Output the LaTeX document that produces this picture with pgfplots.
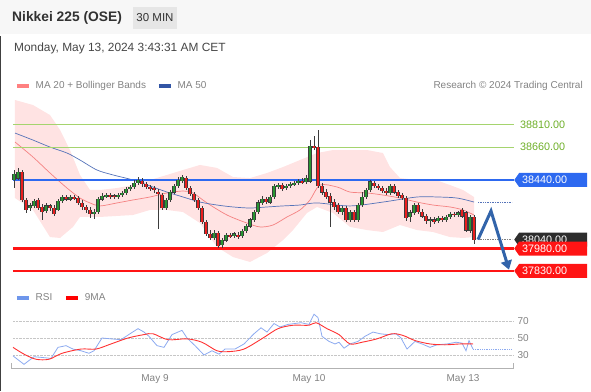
\documentclass[border=0pt]{standalone}
\usepackage{fontspec}
\setmainfont{Liberation Sans}
\usepackage{pgfplots}
\pgfplotsset{compat=1.18}
\usepackage{pgfplotstable}
\usetikzlibrary{shapes.symbols,arrows.meta}

\definecolor{candlegreen}{RGB}{40,150,50}
\definecolor{candlered}{RGB}{235,30,30}
\definecolor{wick}{RGB}{60,60,60}
\definecolor{band}{RGB}{255,227,227}
\definecolor{maA}{RGB}{245,130,130}
\definecolor{maB}{RGB}{85,115,185}
\definecolor{lvlgreen}{RGB}{165,212,110}
\definecolor{lvlgreentext}{RGB}{110,175,40}
\definecolor{lvlblue}{RGB}{45,105,240}
\definecolor{lvlred}{RGB}{255,20,20}
\definecolor{tagdark}{RGB}{45,45,45}
\definecolor{arrowblue}{RGB}{50,100,170}
\definecolor{textgray}{RGB}{130,130,130}
\definecolor{titlegray}{RGB}{50,50,50}
\definecolor{dategray}{RGB}{70,70,70}
\definecolor{boxgray}{RGB}{230,230,230}
\definecolor{headbg}{RGB}{247,247,247}
\definecolor{rsiblue}{RGB}{140,170,240}
\definecolor{rsired}{RGB}{255,50,50}
\definecolor{legpink}{RGB}{255,128,128}
\definecolor{legblue}{RGB}{50,85,165}
\definecolor{legrsi}{RGB}{110,150,235}

\pgfplotsset{
  legend image code/.code={\draw[#1, line width=3.5pt] (0pt,0pt) -- (12pt,0pt);},
  nomarks/.style={only marks, mark=*, mark size=0pt, mark options={draw=none, fill=none}},
}
\tikzset{
  tagbox/.style={signal, signal to=west, signal pointer angle=110, anchor=west,
    inner xsep=3pt, inner ysep=1.5pt, minimum height=14pt, text=white,
    font=\fontsize{10.8}{12}\selectfont, text width=62pt, align=left},
}

% all candles: x open high low close
\pgfplotstableread{
x o h l c
14 38440 38507 38386 38480
18 38453 38521 38440 38494
22 38494 38507 38292 38306
26 38306 38319 38219 38239
30 38252 38286 38232 38266
34 38266 38312 38252 38299
38 38306 38319 38239 38252
42 38259 38279 38172 38225
46 38232 38286 38219 38266
50 38266 38279 38232 38252
54 38252 38272 38198 38212
58 38239 38312 38232 38299
62 38299 38339 38286 38326
66 38326 38339 38299 38312
70 38312 38339 38299 38326
74 38326 38339 38306 38319
78 38319 38333 38272 38286
82 38286 38306 38239 38259
86 38259 38272 38219 38239
90 38239 38259 38185 38212
94 38212 38245 38178 38225
98 38225 38326 38212 38312
102 38312 38353 38299 38333
106 38333 38353 38319 38339
110 38339 38353 38312 38333
114 38333 38346 38312 38326
118 38326 38353 38312 38339
122 38339 38366 38326 38353
126 38353 38393 38339 38380
130 38380 38406 38366 38393
134 38393 38440 38380 38420
138 38420 38460 38406 38440
142 38433 38453 38393 38413
146 38413 38427 38380 38393
150 38393 38406 38366 38386
154 38386 38400 38353 38373
158 38359 38380 38111 38353
162 38339 38353 38239 38252
166 38252 38319 38239 38306
170 38306 38373 38292 38359
174 38359 38413 38346 38400
178 38400 38460 38386 38440
182 38433 38474 38420 38460
186 38453 38467 38373 38386
190 38386 38400 38333 38346
194 38346 38359 38292 38306
198 38306 38319 38239 38252
202 38252 38266 38145 38158
206 38158 38172 38064 38078
210 38078 38104 38037 38051
214 38051 38104 38037 38084
218 38084 38098 37984 37997
222 38004 38051 37984 38037
226 38037 38084 38024 38071
230 38071 38084 38051 38064
234 38064 38091 38051 38078
238 38071 38091 38044 38064
242 38064 38111 38051 38098
246 38098 38145 38084 38131
250 38131 38185 38118 38172
254 38172 38239 38158 38225
258 38225 38306 38212 38286
262 38286 38333 38272 38312
266 38312 38326 38279 38292
270 38292 38339 38279 38326
274 38326 38413 38312 38400
278 38400 38420 38380 38406
282 38406 38420 38366 38380
286 38386 38413 38373 38400
290 38400 38427 38386 38413
294 38413 38433 38400 38420
298 38420 38447 38406 38433
302 38433 38453 38413 38427
306 38427 38474 38413 38453
310 38433 38708 38420 38668
314 38668 38735 38641 38655
318 38661 38776 38386 38400
322 38400 38420 38339 38359
326 38359 38380 38312 38326
330 38333 38353 38125 38292
334 38292 38312 38239 38259
338 38272 38286 38212 38225
342 38225 38266 38205 38252
346 38252 38266 38158 38172
350 38172 38239 38158 38225
354 38225 38239 38158 38172
358 38172 38286 38158 38272
362 38272 38359 38259 38326
366 38326 38386 38312 38373
370 38373 38440 38359 38427
374 38420 38433 38386 38400
378 38400 38413 38373 38386
382 38386 38400 38353 38366
386 38366 38386 38339 38353
390 38353 38413 38339 38400
394 38400 38413 38346 38359
398 38359 38373 38319 38333
402 38339 38353 38306 38319
406 38319 38333 38165 38185
410 38192 38239 38158 38219
414 38219 38286 38205 38272
418 38272 38286 38212 38225
422 38225 38245 38185 38198
426 38198 38212 38145 38165
430 38165 38192 38125 38172
434 38172 38192 38145 38158
438 38165 38198 38151 38185
442 38185 38198 38158 38172
446 38172 38205 38158 38192
450 38192 38225 38178 38212
454 38212 38225 38192 38205
458 38205 38232 38192 38219
462 38239 38252 38185 38198
466 38219 38232 38091 38104
470 38104 38205 38084 38192
474 38192 38205 38010 38037
}\candles

% rising candles: x open close
\pgfplotstableread{
x o c
14 38440 38480
18 38453 38494
30 38252 38266
34 38266 38299
46 38232 38266
58 38239 38299
62 38299 38326
70 38312 38326
94 38212 38225
98 38225 38312
102 38312 38333
106 38333 38339
118 38326 38339
122 38339 38353
126 38353 38380
130 38380 38393
134 38393 38420
138 38420 38440
166 38252 38306
170 38306 38359
174 38359 38400
178 38400 38440
182 38433 38460
214 38051 38084
222 38004 38037
226 38037 38071
234 38064 38078
242 38064 38098
246 38098 38131
250 38131 38172
254 38172 38225
258 38225 38286
262 38286 38312
270 38292 38326
274 38326 38400
278 38400 38406
286 38386 38400
290 38400 38413
294 38413 38420
298 38420 38433
306 38427 38453
310 38433 38668
342 38225 38252
350 38172 38225
358 38172 38272
362 38272 38326
366 38326 38373
370 38373 38427
390 38353 38400
410 38192 38219
414 38219 38272
430 38165 38172
438 38165 38185
446 38172 38192
450 38192 38212
458 38205 38219
470 38104 38192
}\upc

% falling candles: x open close
\pgfplotstableread{
x o c
22 38494 38306
26 38306 38239
38 38306 38252
42 38259 38225
50 38266 38252
54 38252 38212
66 38326 38312
74 38326 38319
78 38319 38286
82 38286 38259
86 38259 38239
90 38239 38212
110 38339 38333
114 38333 38326
142 38433 38413
146 38413 38393
150 38393 38386
154 38386 38373
158 38359 38353
162 38339 38252
186 38453 38386
190 38386 38346
194 38346 38306
198 38306 38252
202 38252 38158
206 38158 38078
210 38078 38051
218 38084 37997
230 38071 38064
238 38071 38064
266 38312 38292
282 38406 38380
302 38433 38427
314 38668 38655
318 38661 38400
322 38400 38359
326 38359 38326
330 38333 38292
334 38292 38259
338 38272 38225
346 38252 38172
354 38225 38172
374 38420 38400
378 38400 38386
382 38386 38366
386 38366 38353
394 38400 38359
398 38359 38333
402 38339 38319
406 38319 38185
418 38272 38225
422 38225 38198
426 38198 38165
434 38172 38158
442 38185 38172
454 38212 38205
462 38239 38198
466 38219 38104
474 38192 38037
}\downc

\pgfplotstableread{
x v
13 29
24 19
34 28
43 27
51 26
58 39
66 41
73 37
81 35
89 32
94 35
102 50
111 49
121 48
130 55
138 61
144 57
149 52
157 41
164 39
172 54
182 59
187 50
195 41
204 30
212 35
219 31
225 37
235 37
244 43
254 55
261 62
267 57
274 67
280 63
288 66
301 68
309 66
314 78
318 74
322 52
329 46
335 43
339 45
344 38
350 43
358 46
365 52
373 57
380 55
388 54
396 55
401 50
407 37
415 46
422 43
430 39
437 42
447 43
456 45
462 44
466 35
469 47
473 37
}\rsi

\pgfplotstableread{
x v
13 39
24 31
36 25
49 25
62 32
81 37
96 37
111 43
128 50
144 54
153 55
168 48
187 49
202 45
217 35
229 34
244 37
263 50
278 61
293 65
309 65
316 68
327 61
339 54
350 43
362 45
377 49
392 55
403 53
415 47
430 43
445 42
460 43
473 43
}\rsima

\begin{document}
\begin{tikzpicture}
\path[use as bounding box] (0pt,0pt) rectangle (591pt,-391pt);

% header
\fill[headbg] (0pt,0pt) rectangle (591pt,-34pt);
\node[anchor=west, inner sep=0pt, font=\bfseries\fontsize{13.8}{16}\selectfont, text=titlegray] at (12pt,-18pt) {Nikkei 225 (OSE)};
\node[fill=boxgray, minimum width=44pt, minimum height=22pt, inner sep=0pt, font=\fontsize{11.5}{14}\selectfont, text=titlegray] at (155pt,-18pt) {30 MIN};
\node[anchor=west, inner sep=0pt, font=\fontsize{11.9}{14}\selectfont, text=dategray] at (14pt,-48pt) {Monday, May 13, 2024 3:43:31 AM CET};
\node[anchor=east, inner sep=0pt, font=\fontsize{10}{12}\selectfont, text=textgray] at (583pt,-86pt) {Research © 2024 Trading Central};
\draw[line width=1pt, black!75] (0.5pt,-36pt) -- (0.5pt,-391pt);

% main price panel
\begin{axis}[
  at={(13pt,-285pt)}, anchor=south west,
  scale only axis, width=501pt, height=190pt,
  xmin=13, xmax=514, ymin=37735.3, ymax=39010.4,
  hide axis, clip=false,
  legend columns=-1,
  legend style={at={(0.004,1.047)}, anchor=west, draw=none, fill=none, inner sep=0pt,
    font=\fontsize{10}{12}\selectfont, text=textgray,
    /tikz/every odd column/.append style={column sep=3pt},
    /tikz/every even column/.append style={column sep=9pt}},
]
\addlegendimage{legpink}
\addlegendentry{MA 20 + Bollinger Bands}
\addlegendimage{legblue}
\addlegendentry{MA 50}

% Bollinger band (upper edge left to right, then lower edge right to left)
\addplot[fill=band, draw=none, forget plot] coordinates {
(15,38977) (33,38943) (50,38876) (60,38776) (70,38641) (80,38474) (90,38373) (100,38373)
(117,38386) (133,38406) (150,38440) (167,38474) (183,38507) (200,38541) (217,38521)
(233,38460) (250,38453) (267,38487) (283,38527) (300,38574) (317,38621) (333,38641)
(350,38641) (367,38641) (383,38621) (390,38527) (400,38453) (417,38440) (433,38447)
(450,38406) (463,38373) (474,38326)
(474,38057) (463,38051) (450,38057) (433,38091) (417,38104) (400,38138) (383,38091)
(367,38104) (350,38125) (333,38219) (317,38259) (307,38219) (293,38104) (283,38037)
(267,37950) (250,37890) (233,37923) (217,37990) (200,38151) (183,38225) (167,38239)
(150,38239) (133,38205) (100,38192) (80,38192) (73,38125) (60,38051) (50,38057)
(33,38239) (15,38319)} -- cycle;

% MA 20 and MA 50
\addplot[maA, line width=0.7pt, smooth, forget plot] coordinates {
(15,38695) (33,38594) (50,38487) (67,38386) (80,38319) (90,38286) (100,38266) (117,38286)
(133,38306) (150,38326) (167,38353) (183,38366) (193,38353) (207,38286) (227,38205)
(247,38151) (260,38125) (273,38138) (287,38192) (300,38239) (310,38306) (320,38406)
(337,38393) (350,38359) (367,38353) (383,38339) (400,38319) (417,38292) (433,38272)
(450,38259) (463,38239) (474,38205)};
\addplot[maB, line width=0.7pt, smooth, forget plot] coordinates {
(15,38755) (33,38708) (50,38661) (67,38621) (80,38574) (97,38507) (113,38474) (133,38440)
(150,38400) (167,38359) (183,38326) (200,38292) (217,38272) (233,38259) (250,38252)
(267,38259) (283,38266) (300,38272) (317,38286) (350,38266) (383,38292) (417,38326)
(437,38326) (457,38319) (474,38292)};
\addplot[maB, densely dotted, line width=0.7pt, forget plot] coordinates {(478,38292) (512,38292)};

% level lines
\addplot[lvlgreen, line width=0.8pt, forget plot] coordinates {(13,38810) (514,38810)};
\addplot[lvlgreen, line width=0.8pt, forget plot] coordinates {(13,38660) (514,38660)};
\addplot[lvlblue, line width=1.4pt, forget plot] coordinates {(13,38440) (514,38440)};
\addplot[lvlred, line width=2.2pt, forget plot] coordinates {(13,37980) (514,37980)};
\addplot[lvlred, line width=2.2pt, forget plot] coordinates {(13,37830) (514,37830)};

% candles: wicks (high to low) and dark body outline
\addplot[wick, forget plot, nomarks,
  error bars/.cd, y dir=both, y explicit, error mark=none,
  error bar style={line width=0.7pt, draw=wick}]
  table[x=x, y expr={(\thisrow{h}+\thisrow{l})/2}, y error expr={(\thisrow{h}-\thisrow{l})/2}] {\candles};
\addplot[wick, forget plot, nomarks,
  error bars/.cd, y dir=both, y explicit, error mark=none,
  error bar style={line width=3.4pt, draw=wick}]
  table[x=x, y expr={(\thisrow{o}+\thisrow{c})/2}, y error expr={abs(\thisrow{c}-\thisrow{o})/2+3}] {\candles};
% candles: coloured bodies
\addplot[candlegreen, forget plot, nomarks,
  error bars/.cd, y dir=both, y explicit, error mark=none,
  error bar style={line width=2.2pt, draw=candlegreen}]
  table[x=x, y expr={(\thisrow{o}+\thisrow{c})/2}, y error expr={(\thisrow{c}-\thisrow{o})/2}] {\upc};
\addplot[candlered, forget plot, nomarks,
  error bars/.cd, y dir=both, y explicit, error mark=none,
  error bar style={line width=2.2pt, draw=candlered}]
  table[x=x, y expr={(\thisrow{o}+\thisrow{c})/2}, y error expr={(\thisrow{o}-\thisrow{c})/2}] {\downc};

% last price dotted line and forecast arrow
\addplot[gray, densely dotted, line width=0.7pt, forget plot] coordinates {(478,38040) (512,38040)};
\addplot[arrowblue, line width=3pt, line join=miter, -{Triangle[length=9pt,width=11pt]}, forget plot]
  coordinates {(478,38040) (491,38232) (509,37838)};

% right labels
\node[anchor=west, inner sep=2pt, text=lvlgreentext, font=\fontsize{10.8}{12}\selectfont] at (axis cs:518,38810) {38810.00};
\node[anchor=west, inner sep=2pt, text=lvlgreentext, font=\fontsize{10.8}{12}\selectfont] at (axis cs:518,38660) {38660.00};
\node[tagbox, fill=lvlblue] at (axis cs:514,38440) {38440.00};
\node[tagbox, fill=tagdark] at (axis cs:514,38040) {38040.00};
\node[tagbox, fill=lvlred] at (axis cs:514,37980) {37980.00};
\node[tagbox, fill=lvlred] at (axis cs:514,37830) {37830.00};
\end{axis}

% RSI panel
\begin{axis}[
  at={(13pt,-368pt)}, anchor=south west,
  scale only axis, width=501pt, height=68pt,
  xmin=13, xmax=514, ymin=14.7, ymax=94.7, clip=false,
  axis line style={draw=none}, tick style={draw=none}, major tick length=0pt,
  ytick={30,50,70}, yticklabel pos=right,
  ymajorgrids, grid style={densely dotted, gray!45},
  xtick={155,309,463}, xticklabels={May 9,May 10,May 13},
  tick label style={font=\fontsize{10}{12}\selectfont, text=textgray},
  xticklabel style={yshift=-3pt},
  /pgf/number format/assume math mode=true,
  legend columns=-1,
  legend style={at={(0.004,1.03)}, anchor=west, draw=none, fill=none, inner sep=0pt,
    font=\fontsize{10}{12}\selectfont, text=textgray,
    /tikz/every odd column/.append style={column sep=3pt},
    /tikz/every even column/.append style={column sep=10pt}},
]
\addlegendimage{legrsi}
\addlegendentry{RSI}
\addlegendimage{red}
\addlegendentry{9MA}
\addplot[rsiblue, line width=0.8pt, forget plot] table[x=x, y=v] {\rsi};
\addplot[rsiblue, densely dotted, line width=0.8pt, forget plot] coordinates {(473,37) (512,37)};
\addplot[rsired, line width=0.9pt, smooth, forget plot] table[x=x, y=v] {\rsima};
\draw[gray!60, line width=0.9pt] (axis cs:11,20.6) -- (axis cs:11,14.7) -- (axis cs:513,14.7) -- (axis cs:513,20.6);
\end{axis}
\end{tikzpicture}
\end{document}
